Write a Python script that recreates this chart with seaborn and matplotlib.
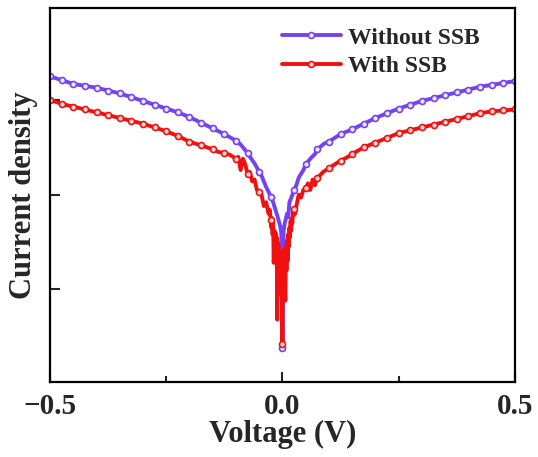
import matplotlib
matplotlib.use("Agg")
import matplotlib.pyplot as plt
from matplotlib.lines import Line2D
from matplotlib.ticker import FixedLocator, NullFormatter, NullLocator
import numpy as np
import seaborn as sns

# Voltage (V) and log10(current density)
purple_v = [-0.500, -0.475, -0.450, -0.425, -0.400, -0.375, -0.350, -0.325, -0.300, -0.275, -0.250, -0.225, -0.200, -0.175, -0.150, -0.125,
            -0.100, -0.090, -0.080, -0.075, -0.070, -0.060, -0.050, -0.045, -0.040, -0.035, -0.030, -0.025, -0.020, -0.015, -0.010, -0.005, -0.0025,
            0.000, 0.0025, 0.005, 0.010, 0.0125, 0.015, 0.020, 0.025, 0.030, 0.035, 0.040, 0.045, 0.050, 0.060, 0.070, 0.075, 0.080, 0.090, 0.100,
            0.125, 0.150, 0.175, 0.200, 0.225, 0.250, 0.275, 0.300, 0.325, 0.350, 0.375, 0.400, 0.425, 0.450, 0.475, 0.500]
purple_log = [-4.75, -4.79, -4.83, -4.85, -4.87, -4.90, -4.93, -4.97, -5.01, -5.05, -5.09, -5.13, -5.18, -5.24, -5.30, -5.36,
              -5.43, -5.47, -5.53, -5.56, -5.60, -5.67, -5.76, -5.80, -5.86, -5.92, -5.97, -6.02, -6.08, -6.16, -6.24, -6.33, -6.40,
              -7.62, -6.38, -6.30, -6.20, -6.24, -6.08, -6.02, -5.95, -5.90, -5.82, -5.78, -5.74, -5.68, -5.62, -5.57, -5.52, -5.50, -5.46, -5.44,
              -5.36, -5.31, -5.25, -5.19, -5.14, -5.09, -5.05, -5.01, -4.98, -4.95, -4.92, -4.89, -4.86, -4.84, -4.82, -4.80]

red_v = [-0.500, -0.475, -0.450, -0.425, -0.400, -0.375, -0.350, -0.325, -0.300, -0.275, -0.250, -0.225, -0.200, -0.175,
         -0.150, -0.1375, -0.125, -0.1125, -0.100, -0.095, -0.090, -0.085, -0.080, -0.075, -0.070, -0.065, -0.060, -0.055, -0.050,
         -0.045, -0.040, -0.035, -0.030, -0.0275,
         -0.02500, -0.02375, -0.02250, -0.02125, -0.02000, -0.01875, -0.01750, -0.01625, -0.01500, -0.01375,
         -0.01250, -0.01125, -0.01000, -0.00875, -0.00750, -0.00625, -0.00500, -0.00375, -0.00250, -0.00125,
         0.00000, 0.00125, 0.00250, 0.00375, 0.00500, 0.00625, 0.00750, 0.00875, 0.01000, 0.01125,
         0.01250, 0.01375, 0.01500, 0.01625, 0.01750, 0.01875, 0.02000, 0.02125, 0.02250, 0.02375, 0.02500,
         0.0275, 0.030, 0.035, 0.040, 0.045, 0.050,
         0.055, 0.060, 0.065, 0.070, 0.075, 0.080, 0.0875, 0.100, 0.1125, 0.125, 0.1375, 0.150,
         0.175, 0.200, 0.225, 0.250, 0.275, 0.300, 0.325, 0.350, 0.375, 0.400, 0.425, 0.450, 0.475, 0.500]
red_log = [-5.00, -5.04, -5.07, -5.10, -5.13, -5.16, -5.19, -5.22, -5.25, -5.29, -5.33, -5.38, -5.44, -5.48,
           -5.52, -5.55, -5.56, -5.58, -5.62, -5.60, -5.74, -5.62, -5.68, -5.78, -5.76, -5.86, -5.84, -5.95, -5.97,
           -6.00, -6.12, -6.08, -6.20, -6.16,
           -6.27, -6.35, -6.25, -6.42, -6.30, -6.72, -6.38, -6.55, -6.40, -6.62,
           -6.45, -7.32, -6.50, -6.85, -6.55, -6.95, -6.60, -7.05, -6.62, -7.20,
           -7.58, -6.62, -7.00, -6.58, -6.90, -7.12, -6.55, -6.80, -6.48, -6.70,
           -6.42, -6.55, -6.35, -6.45, -6.28, -6.38, -6.25, -6.30, -6.18, -6.22, -6.15,
           -6.20, -6.12, -6.00, -6.03, -5.95, -5.93,
           -5.88, -5.95, -5.84, -5.90, -5.82, -5.80, -5.76, -5.72, -5.68, -5.64, -5.61, -5.57,
           -5.50, -5.45, -5.40, -5.35, -5.32, -5.29, -5.26, -5.23, -5.20, -5.17, -5.14, -5.12, -5.11, -5.10]

series_names = ["Without SSB", "With SSB"]
series_colors = ["#7442f0", "#f01010"]
face_colors = ["#ece6ff", "#ffd6d6"]
y_tick_log = [-7, -6, -5]
marker_step = 0.025


def marker_indices(v):
    # pick the sample nearest to every marker_step volts
    v = np.array(v)
    targets = np.arange(-0.5, 0.5 + 1e-9, marker_step)
    return sorted(set(int(np.argmin(np.abs(v - t))) for t in targets))


sns.set_style("ticks")
plt.rcParams["font.family"] = ["Liberation Serif", "DejaVu Serif"]
plt.rcParams["font.weight"] = "bold"

fig = plt.figure(figsize=(5.38, 4.57), dpi=100)
ax = fig.add_axes([0.093, 0.164, 0.864, 0.818])

all_v = [purple_v, red_v]
all_log = [purple_log, red_log]
for v, lg, col, fc in zip(all_v, all_log, series_colors, face_colors):
    sns.lineplot(x=np.array(v), y=10 ** np.array(lg), ax=ax, color=col, linewidth=2.8,
                 sort=False, estimator=None, marker="o", markersize=4.3, markeredgewidth=1.2,
                 markerfacecolor=fc, markeredgecolor=col, markevery=marker_indices(v))

ax.set_yscale("log")
ax.set_xlim(-0.5, 0.5)
ax.set_ylim(10 ** -7.98, 10 ** -4.03)
ax.yaxis.set_major_locator(FixedLocator([10.0 ** k for k in y_tick_log]))
ax.yaxis.set_minor_locator(NullLocator())
ax.yaxis.set_major_formatter(NullFormatter())
ax.yaxis.set_minor_formatter(NullFormatter())
ax.set_xticks([-0.5, 0.0, 0.5])
ax.set_xticklabels(["\u22120.5", "0.0", "0.5"])
ax.set_xticks([-0.25, 0.25], minor=True)

ax.tick_params(axis="both", which="major", direction="in", length=7, width=1.5, labelsize=21, pad=8)
ax.tick_params(axis="x", which="minor", direction="in", length=4, width=1.5)
for lab in ax.get_xticklabels():
    lab.set_fontweight("bold")
for sp in ax.spines.values():
    sp.set_linewidth(1.6)
    sp.set_color("black")

ax.set_xlabel("Voltage (V)", fontsize=22, fontweight="bold", labelpad=0)
ax.set_ylabel("Current density", fontsize=22, fontweight="bold", labelpad=1)

handles = [Line2D([], [], color=c, linewidth=2.8, marker="o", markersize=4.3, markeredgewidth=1.2,
                  markerfacecolor=f, markeredgecolor=c) for c, f in zip(series_colors, face_colors)]
ax.legend(handles, series_names, loc="upper right", bbox_to_anchor=(0.965, 1.0), frameon=False,
          prop={"size": 17, "weight": "bold"}, handlelength=2.5, handletextpad=0.3,
          labelspacing=0.3, borderpad=0.3)

fig.savefig("out.png", dpi=100, facecolor="white")
